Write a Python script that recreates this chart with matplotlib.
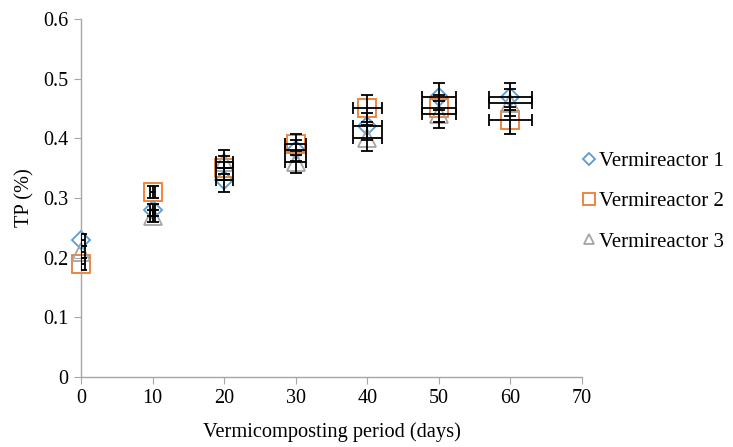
import matplotlib.pyplot as plt

plt.rcParams['font.family'] = ['Liberation Serif', 'DejaVu Serif']

# sampling days and TP values
days = [0, 10, 20, 30, 40, 50, 60]
vr1 = [0.23, 0.28, 0.33, 0.38, 0.42, 0.47, 0.47]
vr2 = [0.19, 0.31, 0.35, 0.39, 0.45, 0.45, 0.43]
vr3 = [0.21, 0.27, 0.36, 0.36, 0.40, 0.44, 0.46]

# error bar sizes (TP and days)
tp_err = [0.01, 0.01, 0.02, 0.018, 0.022, 0.022, 0.022]
day_err = [0.5, 0.4, 1.2, 1.5, 2.0, 2.4, 3.0]

fig = plt.figure(figsize=(7.33, 4.47), dpi=100)
ax = fig.add_axes([0.1105, 0.1566, 0.6835, 0.8009])

series = [
    (vr1, 'D', '#5B9BD5', 9.5, 'Vermireactor 1'),
    (vr2, 's', '#ED7D31', 13.5, 'Vermireactor 2'),
    (vr3, '^', '#A5A5A5', 12.5, 'Vermireactor 3'),
]

for vals, mk, col, ms, lab in series:
    ax.plot(days, vals, linestyle='none', marker=mk, markersize=ms,
            markerfacecolor='none', markeredgecolor=col, markeredgewidth=1.3,
            label=lab, zorder=2, clip_on=False)
    ax.errorbar(days, vals, yerr=tp_err, xerr=day_err, fmt='none',
                ecolor='black', elinewidth=1.3, capsize=4.5, capthick=1.3,
                zorder=3)

ax.set_xlim(0, 70)
ax.set_ylim(0, 0.6)
ax.set_xticks(range(0, 71, 10))
ax.set_yticks([0, 0.1, 0.2, 0.3, 0.4, 0.5, 0.6])
ax.set_yticklabels(['0', '0.1', '0.2', '0.3', '0.4', '0.5', '0.6'])

for s in ['top', 'right']:
    ax.spines[s].set_visible(False)
for s in ['left', 'bottom']:
    ax.spines[s].set_color('#A6A6A6')
    ax.spines[s].set_linewidth(1.0)
ax.tick_params(direction='out', length=5, color='#A6A6A6', labelsize=14.5,
               pad=4)

ax.set_xlabel('Vermicomposting period (days)', fontsize=14.7, labelpad=10)
ax.set_ylabel('TP (%)', fontsize=14.7, labelpad=6)

ax.legend(loc='center left', bbox_to_anchor=(1.003, 0.49), frameon=False,
          fontsize=15, markerscale=0.6, handlelength=0.5, handletextpad=0.25,
          labelspacing=1.0, borderaxespad=0, borderpad=0)

fig.savefig('out.png', dpi=100)
